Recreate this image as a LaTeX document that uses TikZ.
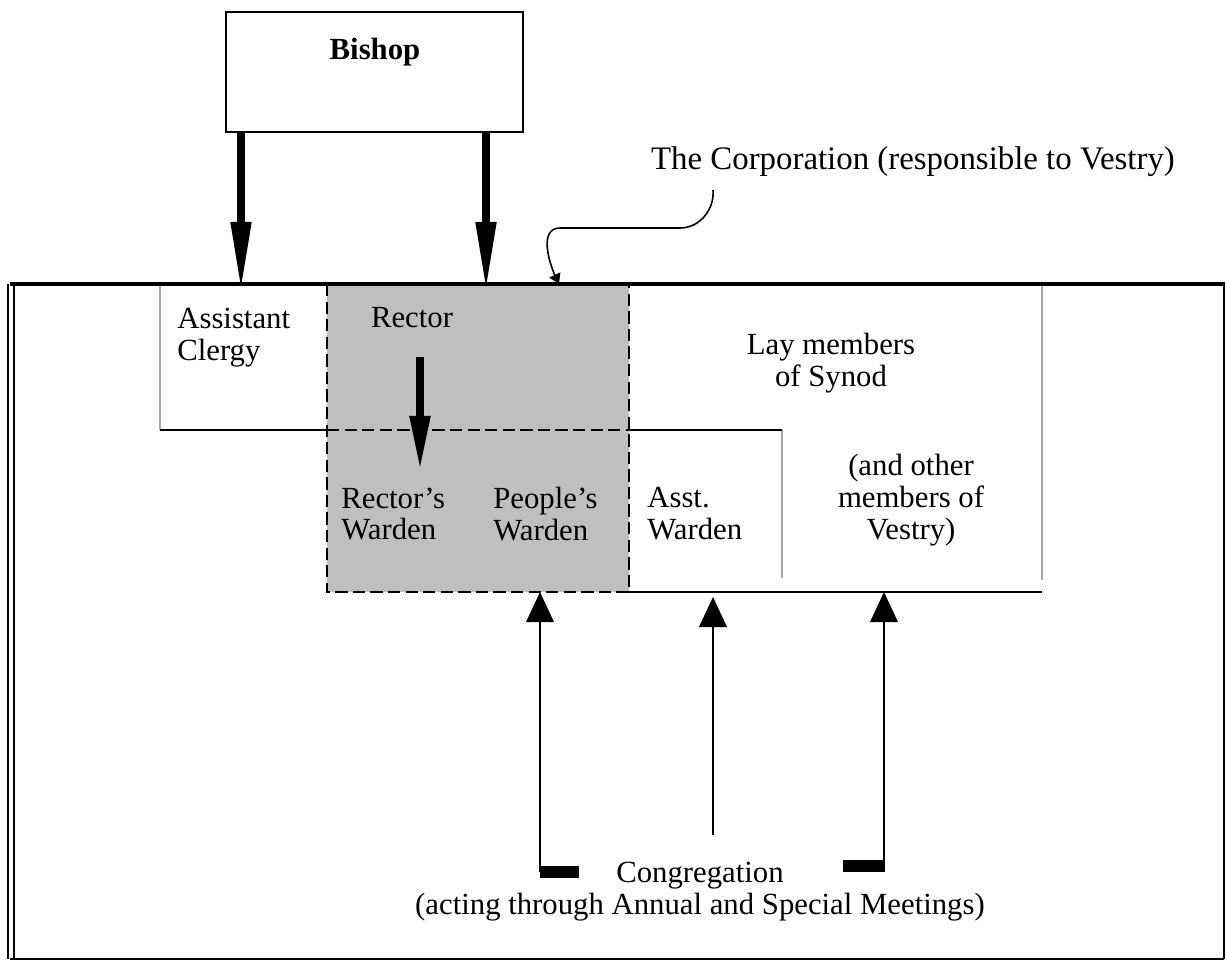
\documentclass[tikz,border=0pt]{standalone}
\usepackage{fontspec}
\setmainfont{Liberation Serif}
\usetikzlibrary{arrows.meta}
\tikzset{
  txt/.style={font=\fontsize{17.5}{18.2}\selectfont, inner sep=0pt},
  bigarrow/.style={line width=4.5pt, shorten >=-4.5pt, -{Triangle[length=1.4cm, width=0.38cm]}},
  midarrow/.style={line width=4.5pt, shorten >=-4.5pt, -{Triangle[length=1.1cm, width=0.38cm]}},
  uparrow/.style={line width=1.3pt, -{Triangle[length=0.6cm, width=0.55cm]}},
  thinarrow/.style={line width=0.9pt, -{Triangle[length=0.2cm, width=0.24cm]}},
  solidline/.style={line width=1.4pt},
  dashline/.style={line width=1.1pt, dash pattern=on 7pt off 3pt},
  greyline/.style={line width=0.6pt, black!35}
}
\begin{document}
\begin{tikzpicture}[x=0.02cm, y=-0.02cm]
\useasboundingbox (0,0) rectangle (1225,961);
% the Corporation, shaded
\fill[black!25] (327,284) rectangle (629,592);
\draw[greyline] (160,284) -- (160,430);
\draw[greyline] (782,430) -- (782,578);
\draw[greyline] (1042,284) -- (1042,580);
\draw[dashline] (327,284) rectangle (629,592);
\draw[dashline] (327,430) -- (629,430);
\draw[solidline] (160,430) -- (327,430);
\draw[solidline] (629,430) -- (782,430);
\draw[solidline] (629,592) -- (1042,592);
% outer frame
\draw[double, double distance=1.8pt, line width=1.1pt] (11,284) -- (11,959);
\draw[line width=1.4pt] (10,959) -- (1224,959);
\draw[line width=0.8pt] (1224,284) -- (1224,959);
\draw[line width=2.4pt] (10,284) -- (1225,284);
% Bishop
\node[draw, line width=1.3pt, minimum width=5.94cm, minimum height=2.4cm] (bishop) at (374.5,72) {};
\node[txt] (bishoptxt) at (375,52) {\bfseries Bishop};
\coordinate (asstop) at (241,284);
\coordinate (rectop) at (486,284);
\draw[bigarrow] (bishop.south -| asstop) -- (asstop);
\draw[bigarrow] (bishop.south -| rectop) -- (rectop);
% labels
\node[txt, font=\fontsize{18.7}{19}\selectfont] (corp) at (913,162) {The Corporation (responsible to Vestry)};
\node[txt, anchor=west, align=left] (asstclergy) at (177,338) {Assistant\\Clergy};
\node[txt] (rector) at (412,318) {Rector};
\node[txt, anchor=west, align=left] (rwarden) at (341,514) {Rector's\\Warden};
\node[txt, anchor=west, align=left] (pwarden) at (493,514) {People's\\Warden};
\node[txt, anchor=west, align=left] (awarden) at (647,514) {Asst.\\Warden};
\node[txt, align=center] (synod) at (831,363) {Lay members\\of Synod};
\node[txt, align=center] (vestry) at (911,500) {(and other\\members of\\Vestry)};
\node[txt, align=center] (cong) at (700,892) {Congregation\\(acting through Annual and Special Meetings)};
% Rector to wardens
\coordinate (rfrom) at (420,357);
\coordinate (rto) at (420,463);
\draw[midarrow] (rfrom) -- (rto);
% pointer to the Corporation
\coordinate (corpstart) at (713,190);
\coordinate (corpend) at (559,284);
\draw[thinarrow] (corpstart) to[out=-85, in=0] (680,228) -- (560,228) to[out=180, in=115] (corpend);
% Congregation arrows
\fill (540,866) rectangle (579,878);
\fill (843,860) rectangle (885,872);
\coordinate (c1) at (540,872);
\coordinate (c2) at (713,835);
\coordinate (c3) at (884,866);
\draw[uparrow] (c1) -- (c1 |- 0,592);
\draw[uparrow] (c2) -- (c2 |- 0,597);
\draw[uparrow] (c3) -- (c3 |- 0,592);
\end{tikzpicture}
\end{document}
